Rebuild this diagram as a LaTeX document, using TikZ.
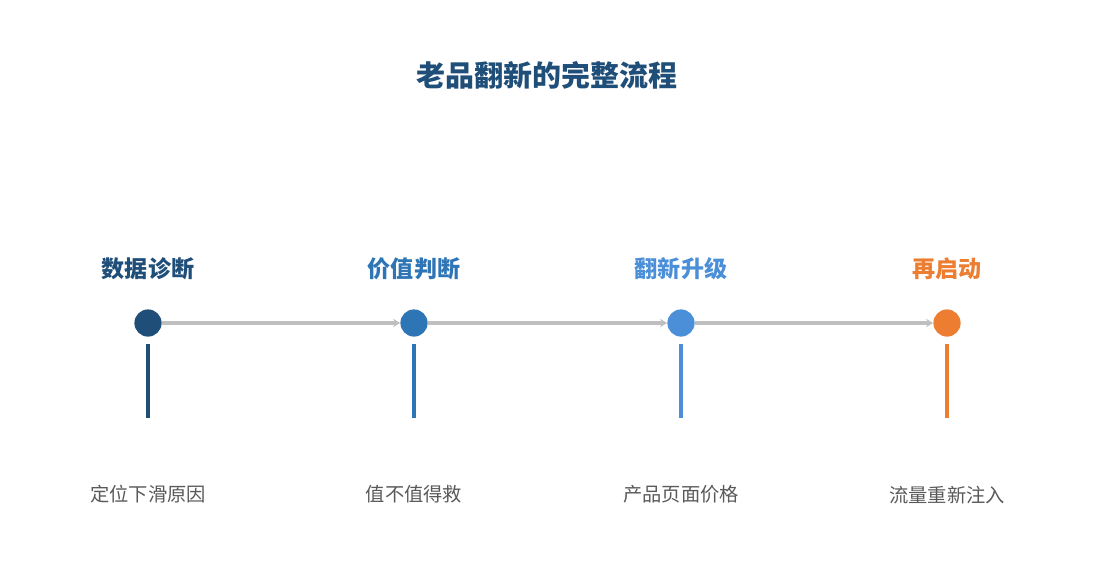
\documentclass[tikz,border=0pt]{standalone}
\usepackage{fontspec}
\setmainfont{Noto Sans CJK SC}
\usetikzlibrary{arrows.meta}
\definecolor{darkblue}{HTML}{1F4E79}
\definecolor{midblue}{HTML}{2E75B6}
\definecolor{lightblue}{HTML}{4A8FD8}
\definecolor{orange}{HTML}{ED7D31}
\definecolor{linegray}{HTML}{BFBFBF}
\definecolor{textgray}{HTML}{595959}
\begin{document}
\begin{tikzpicture}[x=0.025cm,y=-0.025cm]
\useasboundingbox (0,0) rectangle (1095,585);
\node[font=\fontsize{20.6}{24}\selectfont\bfseries, text=darkblue] (title) at (547,75) {老品翻新的完整流程};

\node[circle, fill=darkblue, inner sep=0pt, minimum size=0.68cm] (1) at (148,323) {};
\node[circle, fill=midblue, inner sep=0pt, minimum size=0.68cm] (2) at (414,323) {};
\node[circle, fill=lightblue, inner sep=0pt, minimum size=0.68cm] (3) at (681,323) {};
\node[circle, fill=orange, inner sep=0pt, minimum size=0.68cm] (4) at (947,323) {};

\node[font=\fontsize{16.4}{19}\selectfont\bfseries, text=darkblue] (l1) at (148,269) {数据诊断};
\node[font=\fontsize{16.4}{19}\selectfont\bfseries, text=midblue] (l2) at (414,269) {价值判断};
\node[font=\fontsize{16.4}{19}\selectfont\bfseries, text=lightblue] (l3) at (681,269) {翻新升级};
\node[font=\fontsize{16.4}{19}\selectfont\bfseries, text=orange] (l4) at (947,269) {再启动};

\node[font=\fontsize{13.7}{16}\selectfont, text=textgray] (d1) at (148,494) {定位下滑原因};
\node[font=\fontsize{13.7}{16}\selectfont, text=textgray] (d2) at (414,494) {值不值得救};
\node[font=\fontsize{13.7}{16}\selectfont, text=textgray] (d3) at (681,494) {产品页面价格};
\node[font=\fontsize{13.7}{16}\selectfont, text=textgray] (d4) at (947,495) {流量重新注入};

\path[draw,linegray,line width=2.2pt,-{Stealth[length=5pt,width=6pt]}] (1) -- (2);
\path[draw,linegray,line width=2.2pt,-{Stealth[length=5pt,width=6pt]}] (2) -- (3);
\path[draw,linegray,line width=2.2pt,-{Stealth[length=5pt,width=6pt]}] (3) -- (4);

\coordinate (s1) at (148,344); \coordinate (e1) at (148,418);
\coordinate (s2) at (414,344); \coordinate (e2) at (414,418);
\coordinate (s3) at (681,344); \coordinate (e3) at (681,418);
\coordinate (s4) at (947,344); \coordinate (e4) at (947,418);
\path[draw,darkblue,line width=2.8pt] (s1) -- (e1);
\path[draw,midblue,line width=2.8pt] (s2) -- (e2);
\path[draw,lightblue,line width=2.8pt] (s3) -- (e3);
\path[draw,orange,line width=2.8pt] (s4) -- (e4);

\end{tikzpicture}
\end{document}
